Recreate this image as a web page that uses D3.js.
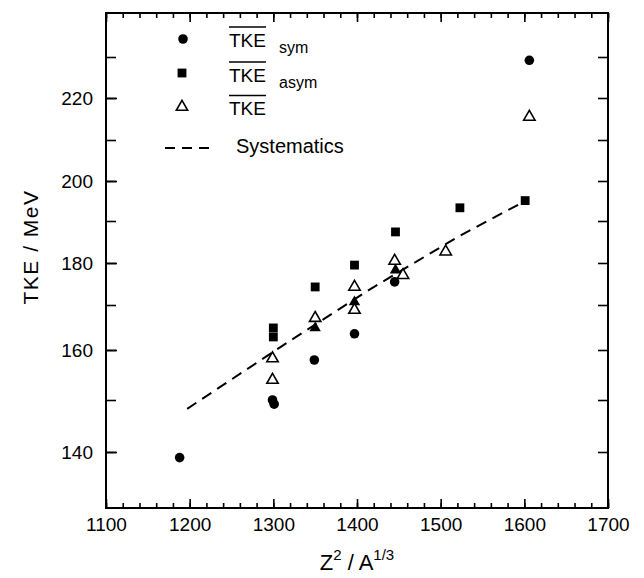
<!DOCTYPE html>
<html>
<head>
<meta charset="utf-8">
<script src="https://cdn.jsdelivr.net/npm/d3@7"></script>
<style>
body { margin: 0; background: #fff; }
text { font-family: "Liberation Sans", Arial, sans-serif; fill: #000; }
</style>
</head>
<body>
<svg width="644" height="578"></svg>
<script>
// tick labels
var xTicks = [1100, 1200, 1300, 1400, 1500, 1600, 1700];
var yTicks = [140, 160, 180, 200, 220];

// TKE sym (filled circles)
var symX = [1188, 1299, 1301, 1349, 1397, 1445, 1606];
var symY = [139.0, 150.0, 149.2, 158.0, 163.6, 175.5, 229.2];
// TKE asym (filled squares)
var asymX = [1300, 1300, 1350, 1397, 1446, 1523, 1601];
var asymY = [164.9, 162.9, 174.3, 179.5, 187.4, 193.3, 195.1];
// mean TKE (open triangles)
var tkeX = [1299, 1299, 1350, 1397, 1397, 1445, 1455, 1506, 1606];
var tkeY = [158.3, 154.0, 167.1, 174.3, 168.9, 180.5, 177.1, 182.7, 215.5];
// filled triangles, mostly hidden under the open ones
var solidTriX = [1350, 1397, 1446];
var solidTriY = [164.9, 170.7, 178.3];
// systematics (dashed)
var sysX = [1197, 1308, 1416, 1523, 1601];
var sysY = [148.3, 160.6, 173.8, 186.5, 195.0];

var svg = d3.select("svg");

var x = d3.scaleLinear().domain([1100, 1700]).range([106, 608]);
// the printed energy axis is not evenly spaced, so it is calibrated tick by tick
var y = d3.scaleLinear()
    .domain([130, 140, 150, 160, 170, 180, 190, 200, 210, 220, 230, 241])
    .range([508, 452, 400, 350, 305, 263, 221, 181, 140, 98, 57, 13]);

var x0 = x(1100), x1 = x(1700), yb = y(130), yt = y(241);

var minorX = d3.range(1100, 1701, 20);
var minorY = d3.range(140, 231, 10);

function clean(g) {
    g.select(".domain").remove();
    g.selectAll(".tick line").attr("stroke", "#000").attr("stroke-width", 1.6);
}

// bottom
svg.append("g").attr("transform", "translate(0," + yb + ")")
    .call(d3.axisBottom(x).tickValues(minorX).tickSize(-5).tickFormat(""))
    .call(clean);
svg.append("g").attr("transform", "translate(0," + yb + ")")
    .call(d3.axisBottom(x).tickValues(xTicks).tickSize(-9).tickPadding(10).tickFormat(d3.format("d")))
    .call(clean)
    .selectAll("text").attr("font-size", 19).attr("font-family", "Liberation Sans, Arial, sans-serif");
// top
svg.append("g").attr("transform", "translate(0," + yt + ")")
    .call(d3.axisTop(x).tickValues(minorX).tickSize(-5).tickFormat(""))
    .call(clean);
svg.append("g").attr("transform", "translate(0," + yt + ")")
    .call(d3.axisTop(x).tickValues(xTicks).tickSize(-9).tickFormat(""))
    .call(clean);
// left
svg.append("g").attr("transform", "translate(" + x0 + ",0)")
    .call(d3.axisLeft(y).tickValues(minorY).tickSize(-10).tickFormat(""))
    .call(clean);
svg.append("g").attr("transform", "translate(" + x0 + ",0)")
    .call(d3.axisLeft(y).tickValues(yTicks).tickSize(-11).tickPadding(13))
    .call(clean)
    .selectAll("text").attr("font-size", 19).attr("font-family", "Liberation Sans, Arial, sans-serif");
// right
svg.append("g").attr("transform", "translate(" + x1 + ",0)")
    .call(d3.axisRight(y).tickValues(minorY).tickSize(-10).tickFormat(""))
    .call(clean);

// frame
svg.append("rect")
    .attr("x", x0).attr("y", yt)
    .attr("width", x1 - x0).attr("height", yb - yt)
    .attr("fill", "none").attr("stroke", "#000").attr("stroke-width", 2);

// systematics
var sysData = sysX.map(function (d, i) { return [d, sysY[i]]; });
svg.append("path")
    .datum(sysData)
    .attr("d", d3.line().x(function (d) { return x(d[0]); }).y(function (d) { return y(d[1]); }))
    .attr("fill", "none").attr("stroke", "#000").attr("stroke-width", 2)
    .attr("stroke-dasharray", "11,7");

function zip(a, b) { return a.map(function (d, i) { return [d, b[i]]; }); }

var circ = d3.symbol().type(d3.symbolCircle).size(72);
var sq = d3.symbol().type(d3.symbolSquare).size(78);
var tri = d3.symbol().type(d3.symbolTriangle).size(56);

svg.selectAll(".solidtri").data(zip(solidTriX, solidTriY)).enter()
    .append("path").attr("class", "solidtri")
    .attr("d", tri)
    .attr("transform", function (d) { return "translate(" + x(d[0]) + "," + y(d[1]) + ")"; })
    .attr("fill", "#000");

svg.selectAll(".sym").data(zip(symX, symY)).enter()
    .append("path").attr("class", "sym")
    .attr("d", circ)
    .attr("transform", function (d) { return "translate(" + x(d[0]) + "," + y(d[1]) + ")"; })
    .attr("fill", "#000");

svg.selectAll(".asym").data(zip(asymX, asymY)).enter()
    .append("path").attr("class", "asym")
    .attr("d", sq)
    .attr("transform", function (d) { return "translate(" + x(d[0]) + "," + y(d[1]) + ")"; })
    .attr("fill", "#000");

svg.selectAll(".tke").data(zip(tkeX, tkeY)).enter()
    .append("path").attr("class", "tke")
    .attr("d", tri)
    .attr("transform", function (d) { return "translate(" + x(d[0]) + "," + y(d[1]) + ")"; })
    .attr("fill", "#fff").attr("stroke", "#000").attr("stroke-width", 1.6);

// legend
var legend = svg.append("g");
legend.append("path").attr("d", circ).attr("transform", "translate(183,39)").attr("fill", "#000");
legend.append("path").attr("d", sq).attr("transform", "translate(182,73)").attr("fill", "#000");
legend.append("path").attr("d", tri).attr("transform", "translate(182,107)")
    .attr("fill", "#fff").attr("stroke", "#000").attr("stroke-width", 1.6);
legend.append("line").attr("x1", 165).attr("x2", 209).attr("y1", 148).attr("y2", 148)
    .attr("stroke", "#000").attr("stroke-width", 2).attr("stroke-dasharray", "10,7");

var rows = [["sym", 46.5], ["asym", 81.5], ["", 115]];
rows.forEach(function (r) {
    var t = legend.append("text").attr("x", 229).attr("y", r[1]).attr("font-size", 19).text("TKE");
    var w = t.node().getComputedTextLength();
    legend.append("line").attr("x1", 229).attr("x2", 229 + w)
        .attr("y1", r[1] - 19.5).attr("y2", r[1] - 19.5)
        .attr("stroke", "#000").attr("stroke-width", 1.6);
    if (r[0]) {
        legend.append("text").attr("x", 279).attr("y", r[1] + 6).attr("font-size", 16).text(r[0]);
    }
});
legend.append("text").attr("x", 236).attr("y", 153).attr("font-size", 20).text("Systematics");

// axis titles
var xt = svg.append("text").attr("x", 357).attr("y", 570)
    .attr("text-anchor", "middle").attr("font-size", 22);
xt.append("tspan").text("Z");
xt.append("tspan").attr("dy", -10).attr("font-size", 15).text("2");
xt.append("tspan").attr("dy", 10).text(" / A");
xt.append("tspan").attr("dy", -10).attr("font-size", 15).text("1/3");

svg.append("text")
    .attr("transform", "translate(38,247) rotate(-90)")
    .attr("text-anchor", "middle").attr("font-size", 21)
    .attr("letter-spacing", 1.5)
    .text("TKE / MeV");
</script>
</body>
</html>
